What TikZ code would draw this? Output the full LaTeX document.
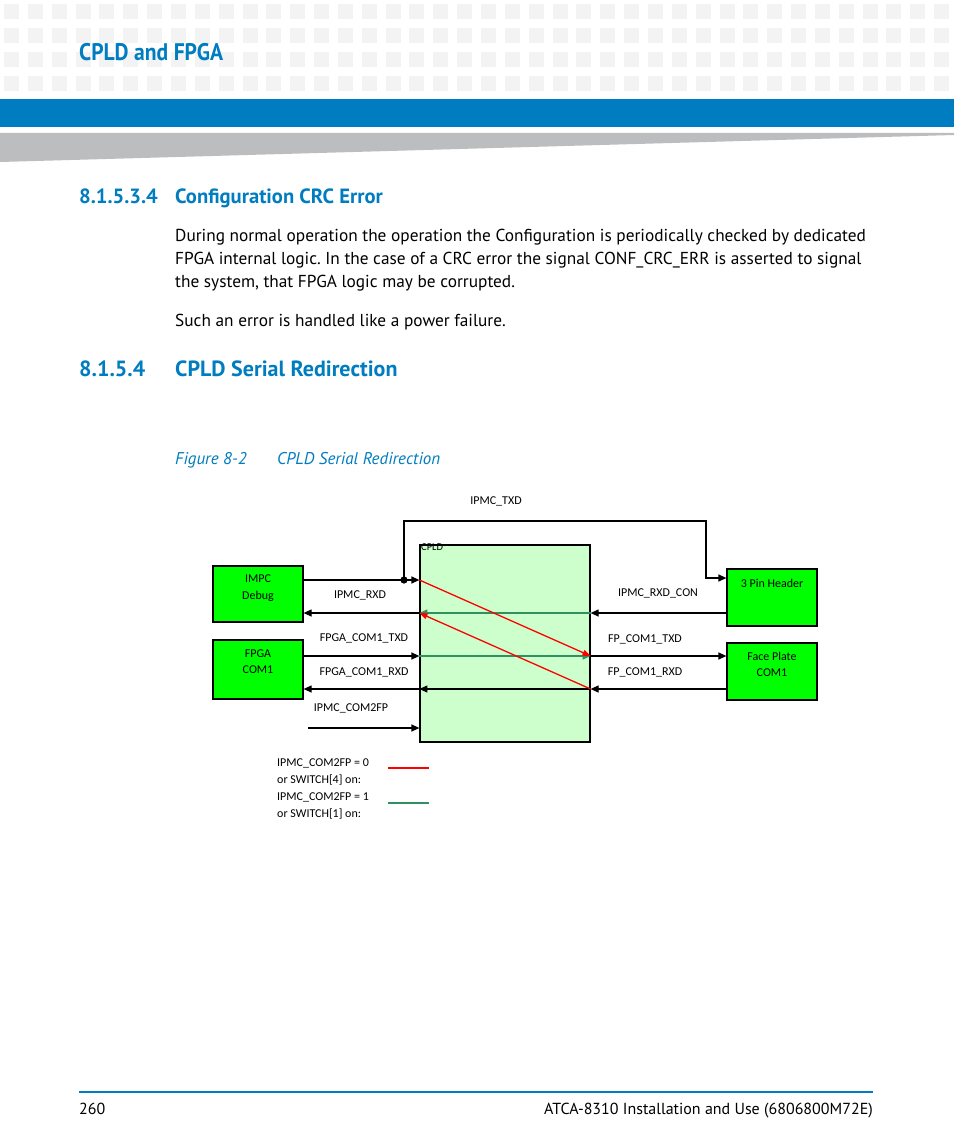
\documentclass[tikz,border=0pt]{standalone}
\usepackage{fontspec}
\setmainfont{PT Sans}
\newfontfamily\diagf{Carlito}
\newfontfamily\headf[FakeStretch=0.9]{PT Sans}
\usetikzlibrary{arrows.meta,calc}
\definecolor{band}{RGB}{0,125,192}
\definecolor{sq}{RGB}{243,243,243}
\definecolor{wedge}{RGB}{188,189,191}
\definecolor{boxgreen}{RGB}{0,255,0}
\definecolor{cpldfill}{RGB}{204,255,204}
\definecolor{sgreen}{RGB}{47,145,96}
\definecolor{rred}{RGB}{255,0,0}
\frenchspacing
\begin{document}
\begin{tikzpicture}[x=1pt,y=-1pt,
  gbox/.style={draw=black,line width=1.2pt,fill=boxgreen,inner sep=0pt},
  lbl/.style={font=\diagf\fontsize{12}{14}\selectfont,inner sep=0pt},
  body/.style={font=\fontsize{17.3}{20}\selectfont,anchor=base west,inner sep=0pt},
  hnum/.style={font=\bfseries\fontsize{20.6}{24}\selectfont,text=band,anchor=base west,inner sep=0pt},
  arr/.style={line width=1.2pt,-{Triangle[length=8pt,width=7pt]}},
  wire/.style={line width=1.2pt},
  garr/.style={draw=sgreen,line width=1.3pt,-{Triangle[length=8pt,width=7pt]}},
  rarr/.style={draw=rred,line width=1.3pt,-{Triangle[length=8pt,width=6pt]}}]
\useasboundingbox (0,0) rectangle (954,1145);
\fill[white] (0,0) rectangle (954,1145);
% header pattern
\foreach \r in {4,28,52,76} {\foreach \c in {0,...,39} {\fill[sq] ({4+\c*23.85},\r) rectangle ++(15,15.5);}}
\fill[band] (0,99) rectangle (954,127);
\fill[wedge] (0,133) -- (954,133) -- (954,135) -- (0,162) -- cycle;
\node[anchor=base west,inner sep=0pt,text=band,font=\headf\bfseries\fontsize{24}{28}\selectfont] (title) at (79,61) {CPLD and FPGA};
% headings and text
\node[hnum] (h1n) at (79,203) {8.1.5.3.4};
\node[hnum] (h1t) at (175,203) {Configuration CRC Error};
\node[body] (b1) at (175,241) {During normal operation the operation the Configuration is periodically checked by dedicated};
\node[body] (b2) at (175,264) {FPGA internal logic. In the case of a CRC error the signal CONF\_CRC\_ERR is asserted to signal};
\node[body] (b3) at (175,287) {the system, that FPGA logic may be corrupted.};
\node[body] (b4) at (175,326) {Such an error is handled like a power failure.};
\node[hnum,font=\bfseries\fontsize{22}{26}\selectfont] (h2n) at (79,376) {8.1.5.4};
\node[hnum,font=\bfseries\fontsize{22}{26}\selectfont] (h2t) at (175,376) {CPLD Serial Redirection};
\node[body,text=band,font=\itshape\fontsize{17}{20}\selectfont] (cap1) at (175,464) {Figure 8-2};
\node[body,text=band,font=\itshape\fontsize{17}{20}\selectfont] (cap2) at (277,464) {CPLD Serial Redirection};
% diagram boxes
\node[draw=black,line width=1.2pt,fill=cpldfill,minimum width=170pt,minimum height=197pt,inner sep=0pt] (cpld) at (505,643.5) {};
\node[lbl,anchor=west,font=\diagf\fontsize{10.5}{12}\selectfont] (cpldl) at (421,547) {CPLD};
\node[gbox,minimum width=90pt,minimum height=56pt] (impc) at (258,594) {};
\node[gbox,minimum width=90pt,minimum height=59pt] (fpga) at (258,669.5) {};
\node[gbox,minimum width=90pt,minimum height=57pt] (hdr) at (772,597.5) {};
\node[gbox,minimum width=90pt,minimum height=57pt] (fp) at (772,671.5) {};
\node[lbl] (t1) at (258,579) {IMPC};
\node[lbl] (t2) at (258,596) {Debug};
\node[lbl] (t3) at (258,654) {FPGA};
\node[lbl] (t4) at (258,670) {COM1};
\node[lbl] (t5) at (772,583) {3 Pin Header};
\node[lbl] (t6) at (772,656) {Face Plate};
\node[lbl] (t7) at (772,673) {COM1};
% signal labels
\node[lbl] (l1) at (496,501) {IPMC\_TXD};
\node[lbl] (l2) at (360,595) {IPMC\_RXD};
\node[lbl] (l3) at (364,638) {FPGA\_COM1\_TXD};
\node[lbl] (l4) at (364,672) {FPGA\_COM1\_RXD};
\node[lbl] (l5) at (351,708) {IPMC\_COM2FP};
\node[lbl] (l6) at (658,593) {IPMC\_RXD\_CON};
\node[lbl] (l7) at (645,639) {FP\_COM1\_TXD};
\node[lbl] (l8) at (645,672) {FP\_COM1\_RXD};
% port coordinates
\coordinate (ie1) at ([yshift=14]impc.east);
\coordinate (ie2) at ([yshift=-19]impc.east);
\coordinate (fe1) at ([yshift=13.5]fpga.east);
\coordinate (fe2) at ([yshift=-19.5]fpga.east);
\coordinate (hw1) at ([yshift=19.5]hdr.west);
\coordinate (hw2) at ([yshift=-15.5]hdr.west);
\coordinate (pw1) at ([yshift=15.5]fp.west);
\coordinate (pw2) at ([yshift=-17.5]fp.west);
% inner routing
\draw[garr] (hw2 -| cpld.east) -- (hw2 -| cpld.west);
\draw[garr] (fe1 -| cpld.west) -- (fe1 -| cpld.east);
\draw[arr] (pw2 -| cpld.east) -- (pw2 -| cpld.west);
\draw[rarr] (ie1 -| cpld.west) -- (pw1 -| cpld.east);
\draw[rarr] (pw2 -| cpld.east) -- (ie2 -| cpld.west);
% outer connectors
\draw[arr] (ie1) -- (ie1 -| cpld.west);
\coordinate (jn) at (404,580);
\fill (jn) circle (3.6pt);
\draw[arr] (ie2 -| cpld.west) -- (ie2);
\draw[arr] (fe1) -- (fe1 -| cpld.west);
\draw[arr] (fe2 -| cpld.west) -- (fe2);
\coordinate (c2fp) at (308,728);
\draw[arr] (c2fp) -- (c2fp -| cpld.west);
\draw[arr] (hw2) -- (hw2 -| cpld.east);
\draw[arr] (pw1 -| cpld.east) -- (pw1);
\draw[arr] (pw2) -- (pw2 -| cpld.east);
\draw[wire,-{Triangle[length=8pt,width=7pt]}] (jn) -- (404,521) -- (706,521) -- (hw1 -| 706,0) -- (hw1);
% legend
\node[lbl,anchor=west] (g1t) at (277,763) {IPMC\_COM2FP = 0};
\node[lbl,anchor=west] (g2t) at (277,780) {or SWITCH[4] on:};
\node[lbl,anchor=west] (g3t) at (277,797) {IPMC\_COM2FP = 1};
\node[lbl,anchor=west] (g4t) at (277,814) {or SWITCH[1] on:};
\coordinate (lr1) at (388,768); \coordinate (lr2) at (429,768);
\coordinate (lg1) at (388,803); \coordinate (lg2) at (429,803);
\draw[rred,line width=1.6pt] (lr1) -- (lr2);
\draw[sgreen,line width=1.6pt] (lg1) -- (lg2);
% footer
\coordinate (f1) at (79,1092); \coordinate (f2) at (873,1092);
\draw[band,line width=1.8pt] (f1) -- (f2);
\node[body,font=\fontsize{16}{19}\selectfont] (pg) at (79,1114) {260};
\node[body,anchor=base east,font=\fontsize{16}{19}\selectfont] (doc) at (873,1114) {ATCA-8310 Installation and Use (6806800M72E)};
\end{tikzpicture}
\end{document}
